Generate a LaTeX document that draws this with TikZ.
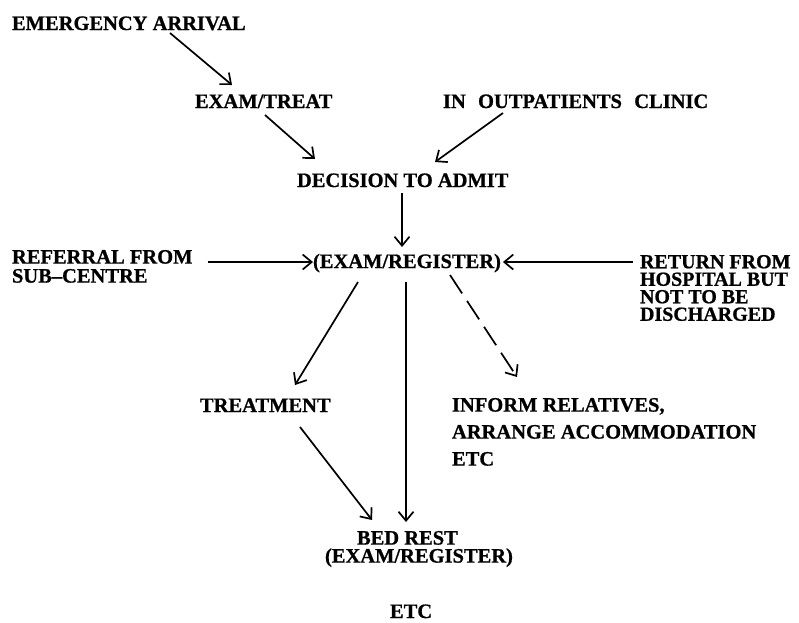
\documentclass[tikz,border=0pt]{standalone}
\usepackage{fontspec}
\setmainfont{Liberation Serif}[BoldFeatures={FakeBold=0.8}]
\usetikzlibrary{arrows.meta}
\begin{document}
\begin{tikzpicture}[x=1pt,y=-1pt,
  lbl/.style={inner sep=0pt, outer sep=0pt, font=\fontsize{20.5}{18}\selectfont\bfseries},
  arr/.style={line width=1.7pt, -{Straight Barb[length=9pt,width=15pt,line width=1.7pt]}},
  dsh/.style={arr, dash pattern=on 22pt off 9pt}]
\useasboundingbox[fill=white] (0,0) rectangle (799,622);

\node[lbl, anchor=base west] (ea) at (12,30) {EMERGENCY ARRIVAL};
\node[lbl, anchor=base west] (et) at (195,108) {EXAM/TREAT};
\node[lbl, anchor=base west] (oc) at (443,108) {IN\hspace{0.6em}OUTPATIENTS\hspace{0.6em}CLINIC};
\node[lbl, anchor=base west] (da) at (297,187) {DECISION TO ADMIT};
\node[lbl, anchor=base west] (er) at (313,268) {(EXAM/REGISTER)};
\node[lbl, anchor=north west, align=left, font=\fontsize{20.5}{19}\selectfont\bfseries] (ref) at (12,250) {REFERRAL FROM\\SUB--CENTRE};
\node[lbl, anchor=north west, align=left, font=\fontsize{20}{17.5}\selectfont\bfseries] (ret) at (640,255) {RETURN FROM\\HOSPITAL BUT\\NOT TO BE\\DISCHARGED};
\node[lbl, anchor=base west] (tr) at (200,412) {TREATMENT};
\node[lbl, anchor=north west, align=left, font=\fontsize{20.5}{27}\selectfont\bfseries] (inf) at (452,398) {INFORM RELATIVES,\\ARRANGE ACCOMMODATION\\ETC};
\node[lbl, anchor=north west, align=left, font=\fontsize{20.5}{18}\selectfont\bfseries] (br) at (325,531) {\hspace*{32pt}BED REST\\(EXAM/REGISTER)};
\node[lbl, anchor=base west] (etc) at (390,618) {ETC};

\draw[arr] ([shift={(158,3)}]ea.base west) -- ([shift={(37,-23)}]et.base west);
\draw[arr] ([shift={(70,7)}]et.base west) -- ([shift={(18,-28)}]da.base west);
\draw[arr] ([shift={(60,5)}]oc.base west) -- ([shift={(138,-25)}]da.base west);
\draw[arr] ([shift={(105,6)}]da.base west) -- ([shift={(89,-21)}]er.base west);
\draw[arr] ([shift={(15,12)}]ref.north east) -- ([shift={(0,-6)}]er.base west);
\draw[arr] ([shift={(-7,7)}]ret.north west) -- ([shift={(2,-6)}]er.base east);
\draw[arr] ([shift={(45,14)}]er.base west) -- ([shift={(95,-27)}]tr.base west);
\draw[arr] ([shift={(93,14)}]er.base west) -- ([shift={(81,-9)}]br.north west);
\draw[dsh] ([shift={(137,7)}]er.base west) -- ([shift={(65,-21)}]inf.north west);
\draw[arr] ([shift={(100,15)}]tr.base west) -- ([shift={(47,-11)}]br.north west);
\end{tikzpicture}
\end{document}
